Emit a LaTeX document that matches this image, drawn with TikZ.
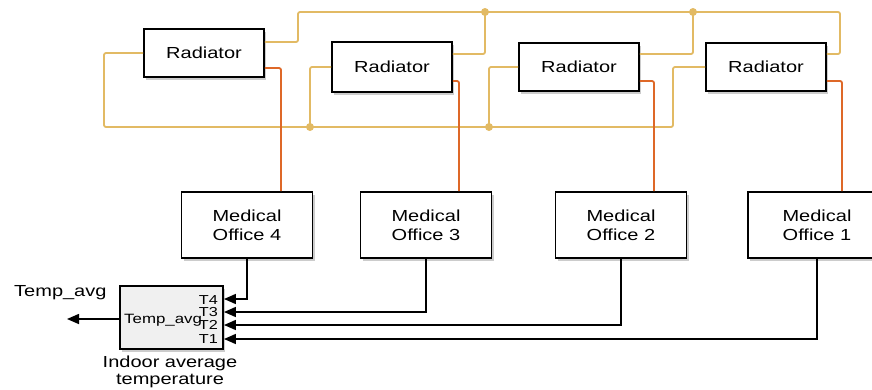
\documentclass[tikz,border=0pt]{standalone}
\usepackage{fontspec}
\setmainfont{Liberation Sans}[FakeStretch=1.25]
\usepackage{tikz}
\usetikzlibrary{arrows.meta,shadows}
\definecolor{busyellow}{RGB}{226,186,100}
\definecolor{heatorange}{RGB}{222,104,40}

\begin{document}
\begin{tikzpicture}[x=1pt,y=-1pt,
	block/.style={draw,line width=1.9pt,fill=white,minimum width=120pt,minimum height=48pt,inner sep=0pt,
		font=\fontsize{16}{19}\selectfont,drop shadow={shadow xshift=2pt,shadow yshift=-2.5pt,opacity=0.4}},
	office/.style={block,minimum width=131pt,minimum height=66pt,align=center},
	avgblock/.style={block,fill=gray!12,minimum width=103pt,minimum height=63pt},
	port/.style={anchor=east,inner sep=0pt,font=\fontsize{13}{13}\selectfont},
	label/.style={inner sep=0pt,font=\fontsize{16}{17}\selectfont},
	bus/.style={busyellow,line width=1.8pt,rounded corners=2pt},
	heat/.style={heatorange,line width=1.8pt,rounded corners=2pt},
	sig/.style={black,line width=1.6pt,-{Triangle[length=12pt,width=10pt]}},
	junction/.style={circle,fill=busyellow,inner sep=0pt,minimum size=8pt}]
	\clip (0,0) rectangle (872,389);

	% radiators
	\node[block] (r1) at (204,53) {Radiator};
	\node[block,minimum height=50pt] (r2) at (392,67) {Radiator};
	\node[block] (r3) at (579,67) {Radiator};
	\node[block] (r4) at (766,67) {Radiator};

	% offices
	\node[office] (o4) at (247,225) {Medical\\Office 4};
	\node[office] (o3) at (426,225) {Medical\\Office 3};
	\node[office] (o2) at (621,225) {Medical\\Office 2};
	\node[office,minimum width=138pt] (o1) at (817,225) {Medical\\Office 1};

	\coordinate (j1) at (485,12);
	\coordinate (j2) at (693,12);
	\coordinate (j3) at (310,127);
	\coordinate (j4) at (489,127);

	% supply and return lines
	\draw[bus] (r1.east |- 0,42) -- (298,42) -- (298,12) -- (840,12) -- (840,54) -- (r4.east |- 0,54);
	\draw[bus] (r2.east |- 0,54) -| (j1);
	\draw[bus] (r3.east |- 0,54) -| (j2);
	\draw[bus] (r1.west) -- (104,53) -- (104,127) -- (673,127) -- (673,67) -- (r4.west);
	\draw[bus] (r2.west) -| (j3);
	\draw[bus] (r3.west) -| (j4);
	\foreach \j in {j1,j2,j3,j4}
		\node[junction] at (\j) {};

	% heat into the offices
	\draw[heat] (r1.east |- 0,68) -| (281,0 |- o4.north);
	\draw[heat] (r2.east |- 0,81) -| (459,0 |- o3.north);
	\draw[heat] (r3.east |- 0,81) -| (654,0 |- o2.north);
	\draw[heat] (r4.east |- 0,81) -| (842,0 |- o1.north);

	% average block
	\node[avgblock] (avg) at (171.5,317.5) {};
	\node[anchor=west,inner sep=0pt,font=\fontsize{13.5}{14}\selectfont] (avgname) at (124,320) {Temp\_avg};
	\node[port] (t4) at (218,300) {T4};
	\node[port] (t3) at (218,312) {T3};
	\node[port] (t2) at (218,325) {T2};
	\node[port] (t1) at (218,339) {T1};
	\node[label,align=center] (avgcap) at (170,372) {Indoor average\\temperature};
	\node[label,anchor=west] (outname) at (14,293) {Temp\_avg};
	\coordinate (out) at (67,319);

	\draw[sig] (o4.south) |- (avg.east |- 0,299);
	\draw[sig] (o3.south) |- (avg.east |- 0,312);
	\draw[sig] (o2.south) |- (avg.east |- 0,325);
	\draw[sig] (o1.south) |- (avg.east |- 0,339);
	\draw[sig] (avg.west |- 0,319) -- (out);
\end{tikzpicture}
\end{document}
